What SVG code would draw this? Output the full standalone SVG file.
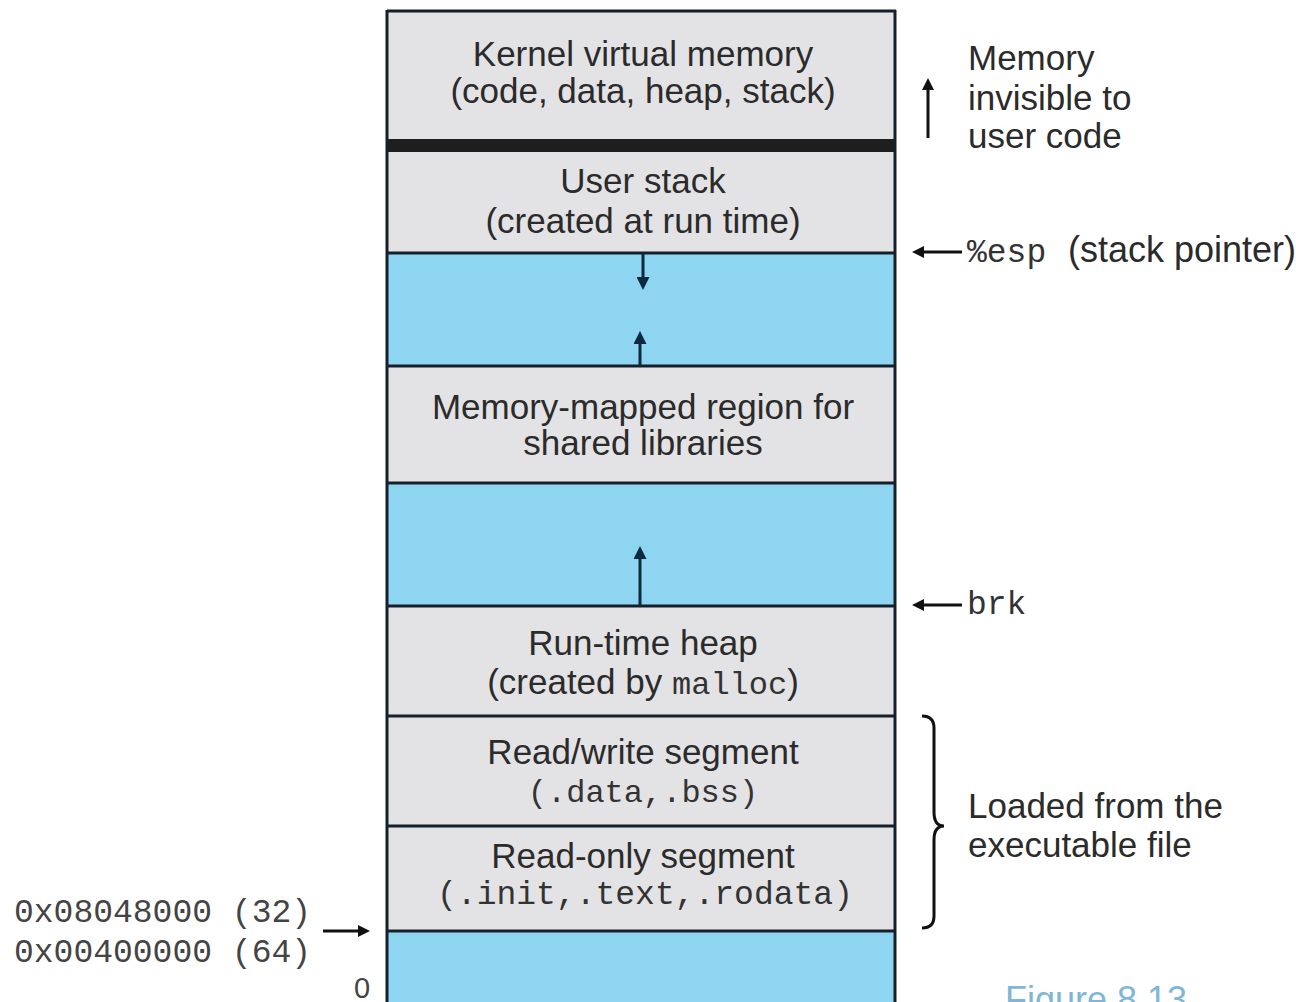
<svg xmlns="http://www.w3.org/2000/svg" width="1296" height="1002" viewBox="0 0 1296 1002">
  <style>
    .seg { fill: #e3e3e5; }
    .gap { fill: #8ed5f2; }
    .div { stroke: #15202a; stroke-width: 3; }
    .lbl { font-family: "Liberation Sans", Arial, sans-serif; font-size: 35px; fill: #2b2b2b; }
    .mid { text-anchor: middle; }
    .mono { font-family: "Liberation Mono", "Courier New", monospace; font-size: 32px; fill: #333; }
    .addr { font-family: "Liberation Mono", "Courier New", monospace; font-size: 33px; fill: #444; }
    .conn { stroke: #111; stroke-width: 3; fill: none; }
    .grow { stroke: #0d2b3f; stroke-width: 3; fill: none; }
  </style>
  <defs>
    <marker id="head" markerWidth="12" markerHeight="12" refX="8" refY="6" orient="auto" markerUnits="userSpaceOnUse">
      <path d="M0,0 L12,6 L0,12 Z" fill="#111"/>
    </marker>
    <marker id="headBlue" markerWidth="13" markerHeight="13" refX="8" refY="6.5" orient="auto" markerUnits="userSpaceOnUse">
      <path d="M0,0 L13,6.5 L0,13 Z" fill="#0d2b3f"/>
    </marker>
  </defs>
  <rect width="1296" height="1002" fill="#ffffff"/>

  <!-- address space column, top to bottom -->
  <g id="kernel">
    <rect class="seg" x="388" y="11" width="507" height="129"/>
    <text class="lbl mid" x="643" y="66">Kernel virtual memory</text>
    <text class="lbl mid" x="643" y="103">(code, data, heap, stack)</text>
  </g>
  <rect x="388" y="139" width="507" height="13" fill="#1e1e1e"/>
  <g id="user-stack">
    <rect class="seg" x="388" y="152" width="507" height="101"/>
    <text class="lbl mid" x="643" y="193">User stack</text>
    <text class="lbl mid" x="643" y="233">(created at run time)</text>
  </g>
  <g id="stack-gap">
    <rect class="gap" x="388" y="253" width="507" height="113"/>
  </g>
  <g id="mmap">
    <rect class="seg" x="388" y="366" width="507" height="117"/>
    <text class="lbl mid" x="643" y="419">Memory-mapped region for</text>
    <text class="lbl mid" x="643" y="455">shared libraries</text>
  </g>
  <g id="heap-gap">
    <rect class="gap" x="388" y="483" width="507" height="123"/>
  </g>
  <g id="heap">
    <rect class="seg" x="388" y="606" width="507" height="110"/>
    <text class="lbl mid" x="643" y="655">Run-time heap</text>
    <text class="lbl mid" x="643" y="694">(created by <tspan class="mono" style="font-size:32px">malloc</tspan>)</text>
  </g>
  <g id="rw-segment">
    <rect class="seg" x="388" y="716" width="507" height="110"/>
    <text class="lbl mid" x="643" y="764">Read/write segment</text>
    <text class="mono mid" x="643" y="802">(.data,.bss)</text>
  </g>
  <g id="ro-segment">
    <rect class="seg" x="388" y="826" width="507" height="105"/>
    <text class="lbl mid" x="643" y="868">Read-only segment</text>
    <text class="mono mid" x="645" y="904" style="font-size:33px">(.init,.text,.rodata)</text>
  </g>
  <g id="unused">
    <rect class="gap" x="388" y="931" width="507" height="71"/>
  </g>

  <!-- column outline and segment boundaries -->
  <g id="outline">
    <line class="div" x1="387" y1="11" x2="896" y2="11"/>
    <line class="div" x1="387" y1="10" x2="387" y2="1002"/>
    <line class="div" x1="895" y1="10" x2="895" y2="1002"/>
    <line class="div" x1="387" y1="253" x2="896" y2="253"/>
    <line class="div" x1="387" y1="366" x2="896" y2="366"/>
    <line class="div" x1="387" y1="483" x2="896" y2="483"/>
    <line class="div" x1="387" y1="606" x2="896" y2="606"/>
    <line class="div" x1="387" y1="716" x2="896" y2="716"/>
    <line class="div" x1="387" y1="826" x2="896" y2="826"/>
    <line class="div" x1="387" y1="931" x2="896" y2="931"/>
  </g>

  <!-- side labels -->
  <g id="invisible-note">
    <text class="lbl" x="968" y="70">Memory</text>
    <text class="lbl" x="968" y="110">invisible to</text>
    <text class="lbl" x="968" y="148">user code</text>
  </g>
  <g id="esp-label">
    <text class="mono" x="967" y="262" style="font-size:33px">%esp</text>
    <text class="lbl" x="1068" y="262" style="font-size:36px">(stack pointer)</text>
  </g>
  <g id="brk-label">
    <text class="mono" x="967" y="614" style="font-size:33px">brk</text>
  </g>
  <g id="loaded-note">
    <text class="lbl" x="968" y="818">Loaded from the</text>
    <text class="lbl" x="968" y="857">executable file</text>
  </g>
  <g id="start-address">
    <text class="addr" x="14" y="922">0x08048000 (32)</text>
    <text class="addr" x="14" y="962">0x00400000 (64)</text>
  </g>
  <g id="zero">
    <text class="lbl" x="354" y="998" style="font-size:29px;fill:#444">0</text>
  </g>
  <g id="caption">
    <text x="1005" y="1012" font-family="Liberation Sans, Arial, sans-serif" font-size="36" fill="#7fb6d8">Figure 8.13</text>
  </g>

  <!-- connectors -->
  <g id="connectors">
    <line class="conn" x1="928" y1="138" x2="928" y2="82" marker-end="url(#head)"/>
    <line class="conn" x1="962" y1="252" x2="916" y2="252" marker-end="url(#head)"/>
    <line class="conn" x1="962" y1="605" x2="916" y2="605" marker-end="url(#head)"/>
    <line class="conn" x1="323" y1="931" x2="366" y2="931" marker-end="url(#head)"/>
    <line class="grow" x1="643" y1="254" x2="643" y2="285" marker-end="url(#headBlue)"/>
    <line class="grow" x1="640" y1="366" x2="640" y2="336" marker-end="url(#headBlue)"/>
    <line class="grow" x1="640" y1="606" x2="640" y2="551" marker-end="url(#headBlue)"/>
    <path class="conn" stroke-width="2.5" d="M922,716 Q934,716 934,728 L934,812 Q934,826 944,826 Q934,826 934,840 L934,916 Q934,928 922,928"/>
  </g>
</svg>
